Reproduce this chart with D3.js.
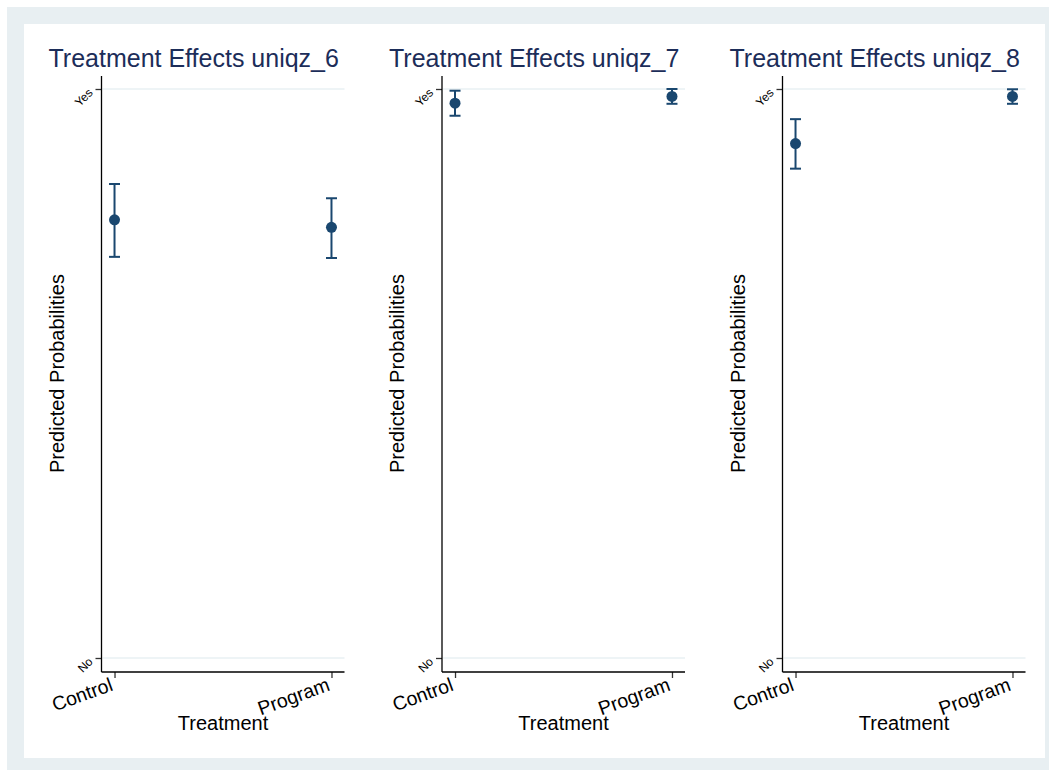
<!DOCTYPE html>
<html>
<head>
<meta charset="utf-8">
<script src="https://cdn.jsdelivr.net/npm/d3@7"></script>
<style>
  body { margin: 0; background: #fff; }
  text { font-family: "Liberation Sans", Arial, sans-serif; }
</style>
</head>
<body>
<svg id="chart" width="1049" height="770"></svg>
<script>
// chart values
const titles = ["Treatment Effects uniqz_6", "Treatment Effects uniqz_7", "Treatment Effects uniqz_8"];
const groups = ["Control", "Program"];
const yTickLabels = ["No", "Yes"];
const estimate = [[0.770, 0.757], [0.975, 0.987], [0.904, 0.987]];
const lower = [[0.705, 0.703], [0.953, 0.974], [0.860, 0.974]];
const upper = [[0.833, 0.808], [0.997, 1.000], [0.947, 0.9995]];

const svg = d3.select("#chart");
const navy = "#1a476f";

// frame
svg.append("rect").attr("x", 7).attr("y", 7).attr("width", 1042).attr("height", 763).attr("fill", "#e8eff2");
svg.append("rect").attr("x", 24).attr("y", 24).attr("width", 1021).attr("height", 734).attr("fill", "#fff");

const plotW = 243, axisTop = 76, axisY = 672;

const x = d3.scaleLinear().domain([-0.06, 1.06]).range([0, plotW]);
const y = d3.scaleLinear().domain([0, 1]).range([658, 89]);

titles.forEach((title, p) => {
  const ox = 101.5 + p * 340.5;
  const g = svg.append("g").attr("transform", `translate(${ox},0)`);

  g.append("text")
    .attr("x", -53).attr("y", 67)
    .attr("font-size", 25)
    .attr("fill", "#1c2d59")
    .text(title);

  // grid lines at No / Yes
  g.selectAll(".grid")
    .data([0, 1])
    .enter().append("line")
    .attr("x1", 1).attr("x2", plotW)
    .attr("y1", d => y(d)).attr("y2", d => y(d))
    .attr("stroke", "#e9f0f3").attr("stroke-width", 1.5);

  // y axis
  const yAxis = g.append("g")
    .call(d3.axisLeft(y).tickValues([0, 1]).tickFormat(d => yTickLabels[d]).tickSize(6));
  yAxis.select(".domain").remove();
  yAxis.selectAll("line").attr("stroke", "#333").attr("stroke-width", 1.3);
  yAxis.selectAll("text")
    .attr("font-size", 12).attr("fill", "#000")
    .attr("text-anchor", "end")
    .attr("x", 0).attr("dy", 0)
    .attr("transform", "translate(-8,4) rotate(-45)");
  g.append("line")
    .attr("x1", 0).attr("x2", 0).attr("y1", axisTop).attr("y2", axisY)
    .attr("stroke", "#000").attr("stroke-width", 1.3);

  // x axis
  const xAxis = g.append("g")
    .attr("transform", `translate(0,${axisY})`)
    .call(d3.axisBottom(x).tickValues([0, 1]).tickFormat(d => groups[d]).tickSize(6));
  xAxis.select(".domain").remove();
  xAxis.selectAll("line").attr("stroke", "#333").attr("stroke-width", 1.3);
  xAxis.selectAll("text")
    .attr("font-size", 19.5).attr("fill", "#000")
    .attr("text-anchor", "end")
    .attr("y", 0).attr("dy", 0)
    .attr("transform", "translate(-1,18) rotate(-20)");
  g.append("line")
    .attr("x1", 0).attr("x2", plotW).attr("y1", axisY).attr("y2", axisY)
    .attr("stroke", "#000").attr("stroke-width", 1.3);

  g.append("text")
    .attr("x", 121.5).attr("y", 730)
    .attr("text-anchor", "middle")
    .attr("font-size", 20)
    .text("Treatment");

  g.append("text")
    .attr("transform", `translate(-38,${y(0.5)}) rotate(-90)`)
    .attr("text-anchor", "middle")
    .attr("font-size", 20)
    .text("Predicted Probabilities");

  // confidence intervals
  const ci = g.selectAll(".ci")
    .data(groups.map((d, i) => ({ i, lo: lower[p][i], hi: upper[p][i], est: estimate[p][i] })))
    .enter().append("g");
  ci.append("line")
    .attr("x1", d => x(d.i)).attr("x2", d => x(d.i))
    .attr("y1", d => y(d.lo)).attr("y2", d => y(d.hi))
    .attr("stroke", navy).attr("stroke-width", 2);
  [d => d.lo, d => d.hi].forEach(acc => {
    ci.append("line")
      .attr("x1", d => x(d.i) - 5.5).attr("x2", d => x(d.i) + 5.5)
      .attr("y1", d => y(acc(d))).attr("y2", d => y(acc(d)))
      .attr("stroke", navy).attr("stroke-width", 2);
  });
  ci.append("circle")
    .attr("cx", d => x(d.i)).attr("cy", d => y(d.est))
    .attr("r", 5.5).attr("fill", navy);
});
</script>
</body>
</html>
